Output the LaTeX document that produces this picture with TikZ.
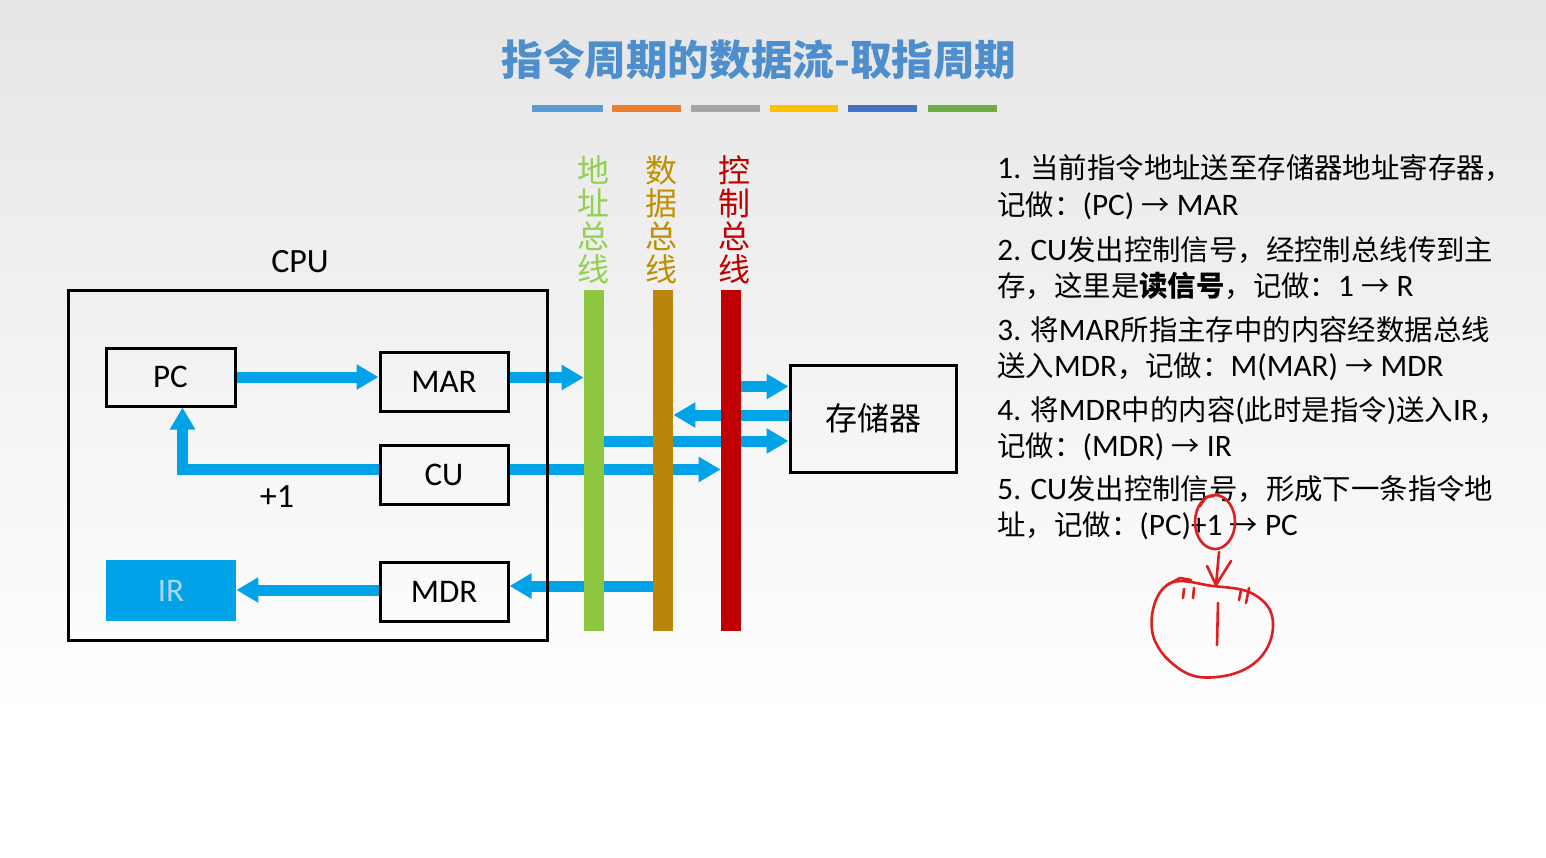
\documentclass[tikz,border=0pt]{standalone}
\usepackage{fontspec}
\setmainfont{Carlito}
\newfontfamily\cjk{Noto Sans CJK SC}
\newfontfamily\lat{Carlito}[Scale=1.1]
\usetikzlibrary{arrows.meta,calc}
\definecolor{flowc}{RGB}{0,162,232}
\definecolor{titlec}{RGB}{78,142,204}
\definecolor{abusc}{RGB}{141,198,63}
\definecolor{dbusc}{RGB}{184,134,11}
\definecolor{cbusc}{RGB}{192,0,0}
\definecolor{ablab}{RGB}{146,208,80}
\definecolor{dblab}{RGB}{191,144,0}
\definecolor{cblab}{RGB}{192,0,0}
\definecolor{irtext}{RGB}{170,215,245}
\definecolor{penc}{RGB}{225,30,30}
\definecolor{bgtop}{RGB}{230,230,230}
\definecolor{bar1}{RGB}{91,155,213}
\definecolor{bar2}{RGB}{237,125,49}
\definecolor{bar3}{RGB}{165,165,165}
\definecolor{bar4}{RGB}{255,192,0}
\definecolor{bar5}{RGB}{68,114,196}
\definecolor{bar6}{RGB}{112,173,71}
\pgfdeclarelayer{back}
\pgfdeclarelayer{mid}
\pgfsetlayers{back,mid,main}
\tikzset{
  regbox/.style={draw=black, line width=1.5pt, minimum width=64pt, minimum height=29.5pt, inner sep=0pt, font=\fontsize{16.5}{16.5}\selectfont},
  busbar/.style={minimum width=10pt, minimum height=170.5pt, inner sep=0pt},
  flow/.style={draw=flowc, line width=5.5pt, line join=miter, -{Triangle[length=11pt,width=12pt]}},
  buslabel/.style={align=center, font=\cjk\fontsize{16}{16.5}\selectfont, inner sep=0pt},
  txt/.style={anchor=base west, inner sep=0pt, font=\cjk\fontsize{14.2}{14}\selectfont},
  pen/.style={draw=penc, line width=1.3pt, line cap=round, line join=round}
}
\begin{document}
\begin{tikzpicture}[x=0.5pt,y=-0.5pt]
\useasboundingbox (0,0) rectangle (1546,857);
\begin{pgfonlayer}{back}
  \fill[white] (0,0) rectangle (1546,857);
  \shade[top color=bgtop, bottom color=white] (0,0) rectangle (1546,720);
\end{pgfonlayer}

% title
\node[font=\cjk\bfseries\fontsize{20.8}{20.8}\selectfont, text=titlec, inner sep=0pt] (title) at (759,60) {指令周期的数据流-取指周期};
\fill[bar1] (532,105) rectangle (603,112);
\fill[bar2] (612,105) rectangle (681,112);
\fill[bar3] (691,105) rectangle (760,112);
\fill[bar4] (770,105) rectangle (838,112);
\fill[bar5] (848,105) rectangle (917,112);
\fill[bar6] (928,105) rectangle (997,112);

% CPU
\node[draw=black, line width=1.5pt, minimum width=239.5pt, minimum height=175pt, inner sep=0pt] (cpu) at (307.5,465) {};
\node[font=\fontsize{17}{17}\selectfont, inner sep=0pt] (cpulabel) at (300,262) {CPU};
\node[regbox, minimum width=64.5pt, minimum height=29pt] (PC) at (170.5,377) {PC};
\node[regbox] (MAR) at (444,381.5) {MAR};
\node[regbox] (CU) at (444,474.5) {CU};
\node[regbox] (MDR) at (444,591.5) {MDR};
\node[fill=flowc, minimum width=65pt, minimum height=30.5pt, inner sep=0pt, text=irtext, font=\fontsize{16.5}{16.5}\selectfont] (IR) at (171,590.5) {IR};
\node[font=\fontsize{17}{17}\selectfont, inner sep=0pt] (plus) at (277,497) {+1};

% memory
\node[draw=black, line width=1.5pt, minimum width=83pt, minimum height=53.5pt, inner sep=0pt, font=\cjk\fontsize{16}{16}\selectfont] (mem) at (873,418.5) {存储器};

% buses
\node[busbar, fill=abusc] (abus) at (594,460.5) {};
\node[busbar, fill=dbusc] (dbus) at (663,460.5) {};
\node[busbar, fill=cbusc] (cbus) at (731,460.5) {};
\node[buslabel, text=ablab] (ablabel) at (593,220) {地\\址\\总\\线};
\node[buslabel, text=dblab] (dblabel) at (661,220) {数\\据\\总\\线};
\node[buslabel, text=cblab] (cblabel) at (734,220) {控\\制\\总\\线};

% arrows
\begin{pgfonlayer}{mid}
\draw[flow] (PC.east) -- (PC.east -| MAR.west);
\draw[flow] ([yshift=2pt]MAR.east) -- ([yshift=2pt]MAR.east -| abus.west);
\draw[flow] ([yshift=2.5pt]CU.west) -| ([xshift=6pt]PC.south);
\draw[flow] ([yshift=2.5pt]CU.east) -- ([yshift=2.5pt]CU.east -| cbus.west);
\draw[flow] ([yshift=16pt]mem.west -| cbus.east) -- ([yshift=16pt]mem.west);
\draw[flow] ([yshift=1.75pt]mem.west) -- ([yshift=1.75pt]mem.west -| dbus.east);
\draw[flow] ([yshift=-11.25pt]mem.west -| abus.east) -- ([yshift=-11.25pt]mem.west);
\draw[flow] ([yshift=2.75pt]MDR.east -| dbus.west) -- ([yshift=2.75pt]MDR.east);
\draw[flow] ([yshift=0.75pt]MDR.west) -- ([yshift=0.75pt]MDR.west -| IR.east);
\end{pgfonlayer}

% text
\node[txt] (l1) at (997,178) {{\lat 1. }当前指令地址送至存储器地址寄存器，};
\node[txt] (l2) at (997,215) {记做：{\lat (PC) }→{\lat\ MAR}};
\node[txt] (l3) at (997,260) {{\lat 2. CU}发出控制信号，经控制总线传到主};
\node[txt] (l4) at (997,296) {存，这里是{\bfseries 读信号}，记做：{\lat 1 }→{\lat\ R}};
\node[txt] (l5) at (997,340) {{\lat 3. }将{\lat MAR}所指主存中的内容经数据总线};
\node[txt] (l6) at (997,376) {送入{\lat MDR}，记做：{\lat M(MAR) }→{\lat\ MDR}};
\node[txt] (l7) at (997,420) {{\lat 4. }将{\lat MDR}中的内容{\lat (}此时是指令{\lat )}送入{\lat IR}，};
\node[txt] (l8) at (997,456) {记做：{\lat (MDR) }→{\lat\ IR}};
\node[txt] (l9) at (997,499) {{\lat 5. CU}发出控制信号，形成下一条指令地};
\node[txt] (l10) at (997,535) {址，记做：{\lat (PC)+1 }→{\lat\ PC}};

% handwriting
\draw[pen] (1215,522) ellipse [x radius=20, y radius=27];
\draw[pen] (1200,506) -- (1206,497) -- (1214,496);
\draw[pen] (1219,552) -- (1216,585);
\draw[pen] (1207,566) -- (1216,585) -- (1231,561);
\draw[pen] plot[smooth cycle, tension=0.7] coordinates {(1167,585) (1152,630) (1178,668) (1217,677) (1258,660) (1273,623) (1255,595) (1213,586)};
\draw[pen] (1167,585) -- (1180,578) -- (1191,580);
\draw[pen] (1184,589) -- (1183,598);
\draw[pen] (1194,588) -- (1193,598);
\draw[pen] (1241,590) -- (1239,600);
\draw[pen] (1249,588) -- (1246,603);
\draw[pen] (1218,603) -- (1217,645);
\end{tikzpicture}
\end{document}
